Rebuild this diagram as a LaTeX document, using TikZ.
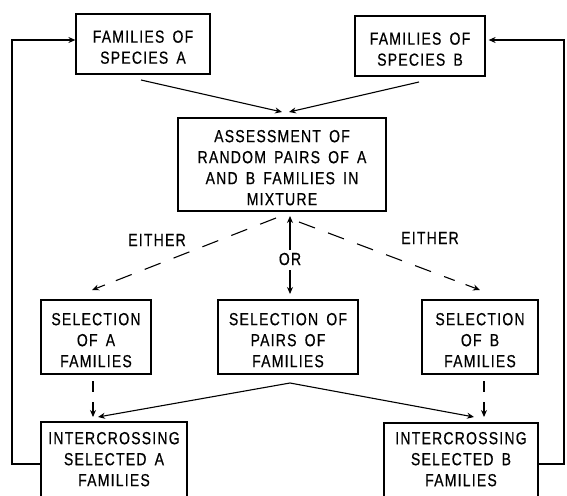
\documentclass[tikz,border=0pt]{standalone}
\usepackage{fontspec}
\newfontfamily\diag[FakeStretch=0.8,LetterSpace=7,FakeBold=0.5,WordSpace=1.6]{Liberation Sans}
\usetikzlibrary{arrows.meta,calc}
\newcommand{\boxtxt}[2][-5pt]{\raisebox{#1}[\height][\depth]{\begin{tabular}{@{}c@{}}#2\end{tabular}}}
\begin{document}
\begin{tikzpicture}[x=1pt,y=-1pt,
  box/.style={draw,line width=1.2pt,inner sep=0pt,font=\diag\fontsize{17.5}{21}\selectfont},
  lbl/.style={inner sep=0pt,font=\diag\fontsize{17.5}{21}\selectfont},
  conn/.style={line width=1.1pt,-{Stealth[length=7pt,width=6pt]}},
  dline/.style={line width=1.1pt,dash pattern=on 17pt off 14pt}]
\clip (0,0) rectangle (567,495);
\fill[white] (0,0) rectangle (567,495);
\node[box,minimum width=134pt,minimum height=60pt] (A) at (143,44) {\boxtxt{FAMILIES OF\\SPECIES A}};
\node[box,minimum width=130pt,minimum height=60pt] (B) at (420,46) {\boxtxt{FAMILIES OF\\SPECIES B}};
\node[box,minimum width=208pt,minimum height=93pt] (M) at (282,164.5) {\boxtxt{ASSESSMENT OF\\RANDOM PAIRS OF A\\AND B FAMILIES IN\\MIXTURE}};
\node[box,minimum width=110pt,minimum height=74pt] (SA) at (96,337) {\boxtxt{SELECTION\\OF A\\FAMILIES}};
\node[box,minimum width=140pt,minimum height=74pt] (SP) at (288,337) {\boxtxt{SELECTION OF\\PAIRS OF\\FAMILIES}};
\node[box,minimum width=116pt,minimum height=74pt] (SB) at (480,337) {\boxtxt{SELECTION\\OF B\\FAMILIES}};
\node[box,minimum width=146pt,minimum height=84pt] (IA) at (114,464) {\boxtxt[3pt]{INTERCROSSING\\SELECTED A\\FAMILIES}};
\node[box,minimum width=154pt,minimum height=84pt] (IB) at (461,465) {\boxtxt[4pt]{INTERCROSSING\\SELECTED B\\FAMILIES}};
\node[lbl] (E1) at (157,240) {EITHER};
\node[lbl] (E2) at (430,238) {EITHER};
\node[lbl] (OR) at (290,259) {OR};
\coordinate (Mt1) at (282,112);
\coordinate (Mt2) at (289,112);
\coordinate (At) at (141,80);
\coordinate (Bt) at (419,82);
\draw[conn] (At) -- (Mt1);
\draw[conn] (Bt) -- (Mt2);
\coordinate (Ub) at (290,250);
\coordinate (Ut) at (290,216);
\draw[conn] (Ub) -- (Ut);
\coordinate (Dt) at (290,270);
\coordinate (Db) at (290,294);
\draw[conn] (Dt) -- (Db);
\coordinate (L0) at (276,218);
\coordinate (L1) at (92,290);
\draw[dline] (L0) -- ($(L0)!0.88!(L1)$);
\draw[conn] ($(L0)!0.93!(L1)$) -- (L1);
\coordinate (R0) at (299,222);
\coordinate (R1) at (480,290);
\draw[dline] (R0) -- ($(R0)!0.86!(R1)$);
\draw[conn] ($(R0)!0.92!(R1)$) -- (R1);
\coordinate (VA0) at (93,381);
\coordinate (VA1) at (93,417);
\draw[conn,dash pattern=on 11pt off 10pt] (VA0) -- (VA1);
\coordinate (VB0) at (484,381);
\coordinate (VB1) at (484,417);
\draw[conn,dash pattern=on 11pt off 10pt] (VB0) -- (VB1);
\coordinate (P0) at (290,383);
\coordinate (PA) at (98,417);
\coordinate (PB) at (474,417);
\draw[conn] (P0) -- (PA);
\draw[conn] (P0) -- (PB);
\draw[conn] (IA.west |- 0,464) -- (12,464) -- (12,40) -- (A.west |- 0,40);
\draw[conn] (IB.east |- 0,464) -- (564,464) -- (564,40) -- ([xshift=3pt]B.east |- 0,40);
\end{tikzpicture}
\end{document}
